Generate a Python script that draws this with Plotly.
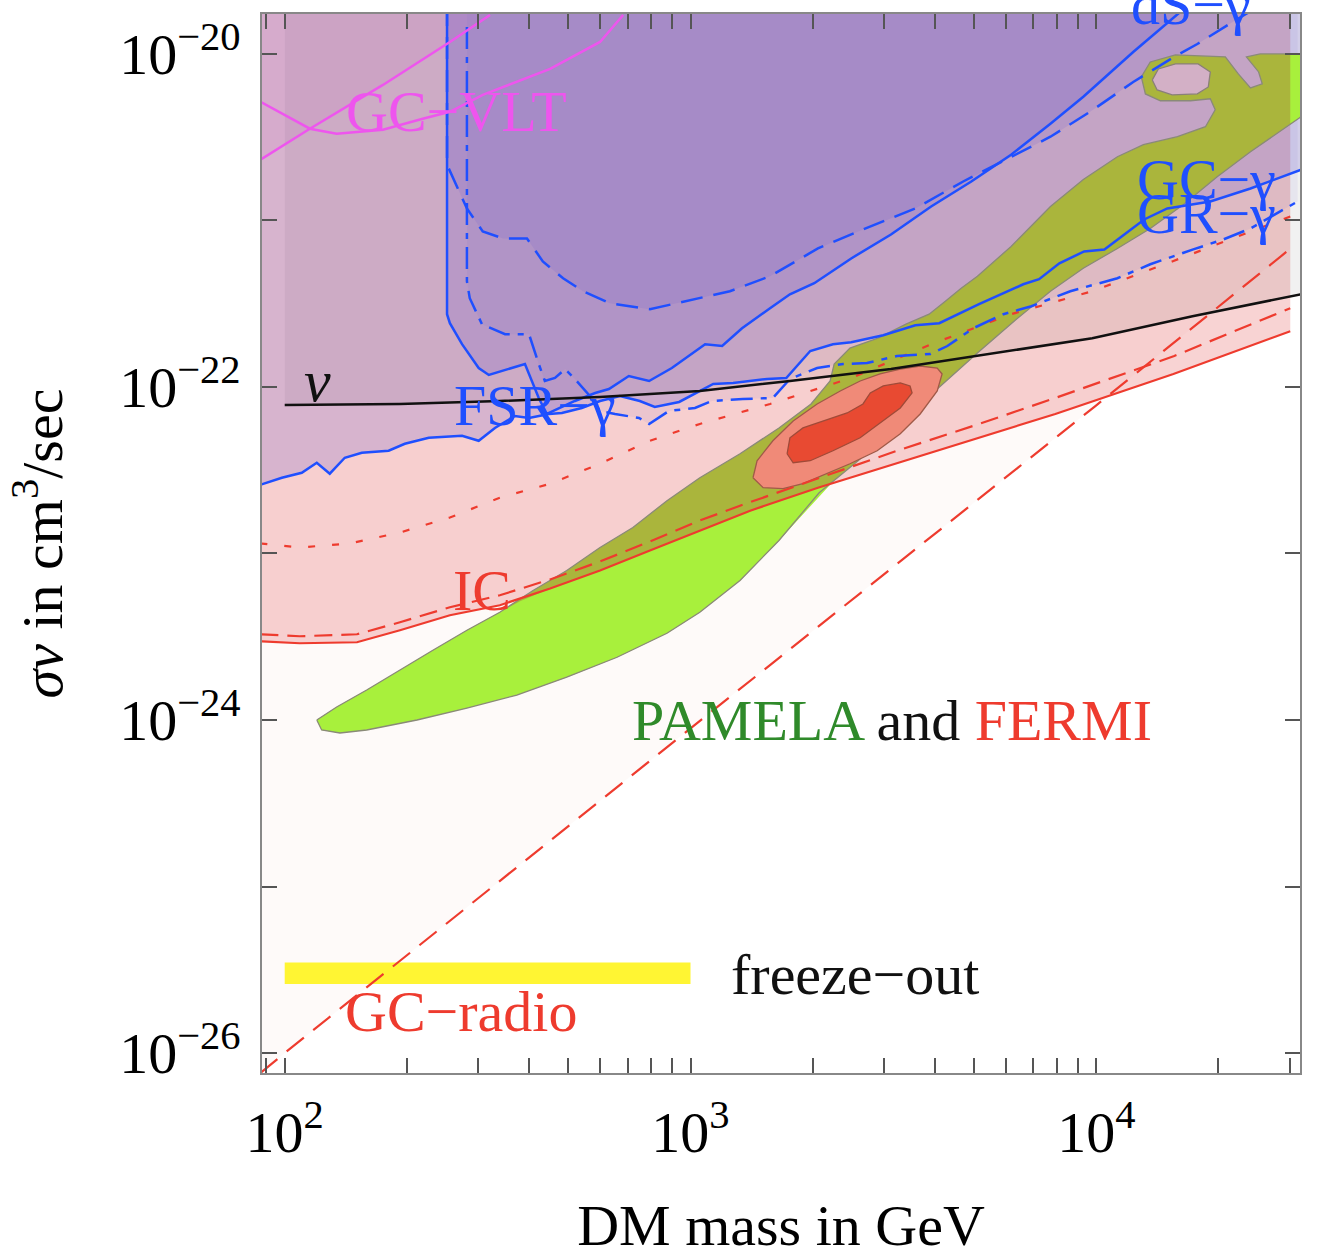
import numpy as np
import plotly.graph_objects as go

# Every curve is stored as log10(m_DM / GeV) and log10(<sigma v> / cm^3 s^-1)

# GC-radio bound (red, long dashes)
radio_lm = [1.94, 2.0, 3.0, 4.0, 4.478]
radio_lsv = [-26.12, -26.0, -24.05, -22.11, -21.17]

# IC bounds (red): solid, dashed, dotted
ic_lm = [1.94, 2.037, 2.178, 2.284, 2.407, 2.530, 2.654, 2.777, 2.900, 3.023,
         3.147, 3.314, 3.608, 3.899, 4.190, 4.478]
ic_lsv = [-23.527, -23.539, -23.533, -23.461, -23.371, -23.311, -23.210, -23.102,
          -22.982, -22.862, -22.743, -22.605, -22.383, -22.162, -21.922, -21.665]

ic2_lm = [1.94, 2.037, 2.178, 2.284, 2.407, 2.530, 2.654, 2.777, 2.900, 3.023,
          3.122, 3.314, 3.509, 3.704, 3.899, 4.192, 4.478]
ic2_lsv = [-23.485, -23.497, -23.485, -23.413, -23.323, -23.251, -23.156, -23.048,
           -22.928, -22.802, -22.713, -22.551, -22.383, -22.228, -22.066, -21.814, -21.527]

ic3_lm = [1.94, 2.037, 2.160, 2.284, 2.407, 2.530, 2.654, 2.777, 2.900, 3.023,
          3.196, 3.396, 3.593, 3.790, 3.990, 4.187, 4.478]
ic3_lsv = [-22.940, -22.964, -22.940, -22.874, -22.784, -22.665, -22.581, -22.461,
           -22.323, -22.222, -22.102, -21.946, -21.743, -21.563, -21.425, -21.246, -20.976]

# Neutrino bound (black)
nu_lm = [2.0, 2.284, 2.530, 2.777, 3.023, 3.245, 3.494, 3.741, 3.990, 4.237, 4.505]
nu_lsv = [-22.108, -22.102, -22.084, -22.060, -22.024, -21.964, -21.892, -21.802,
          -21.707, -21.575, -21.443]

# FSR-gamma / GC-gamma bound (blue, solid)
fsr_lm = [1.94, 1.993, 2.042, 2.079, 2.111, 2.148, 2.190, 2.256, 2.296, 2.355,
          2.437, 2.478, 2.518, 2.567, 2.602, 2.651, 2.683, 2.732, 2.777, 2.826,
          2.875, 2.912, 2.972, 3.023, 3.056, 3.105, 3.189, 3.236, 3.295, 3.351,
          3.396, 3.475, 3.554, 3.613, 3.711, 3.820, 3.859, 3.909, 3.970, 4.020,
          4.069, 4.118, 4.175, 4.281, 4.380, 4.505]
fsr_lsv = [-22.587, -22.545, -22.515, -22.455, -22.521, -22.425, -22.395, -22.383,
           -22.341, -22.305, -22.293, -22.323, -22.246, -22.174, -22.186, -22.162,
           -22.156, -22.126, -22.084, -22.054, -22.084, -22.120, -22.090, -22.024,
           -21.982, -21.976, -21.952, -21.946, -21.784, -21.743, -21.731, -21.689,
           -21.629, -21.617, -21.503, -21.383, -21.353, -21.257, -21.186, -21.174,
           -21.084, -20.994, -20.928, -20.886, -20.808, -20.695]

# Galactic-centre gamma bound with the vertical edge (blue, solid)
gc_lm = [2.400, 2.400, 2.407, 2.437, 2.478, 2.503, 2.592, 2.626, 2.646, 2.715,
         2.765, 2.799, 2.848, 2.898, 2.954, 3.036, 3.078, 3.127, 3.196, 3.245,
         3.305, 3.396, 3.494, 3.593, 3.692, 3.790, 3.887, 3.968, 4.091, 4.230]
gc_lsv = [-19.70, -21.563, -21.617, -21.743, -21.886, -21.928, -21.862, -22.066,
          -22.162, -22.084, -22.036, -22.012, -21.934, -21.964, -21.886, -21.743,
          -21.754, -21.647, -21.527, -21.443, -21.377, -21.228, -21.084, -20.916,
          -20.766, -20.605, -20.419, -20.257, -19.988, -19.70]

# Dashed gamma bound (blue, dashes)
dsh_lm = [2.400, 2.400, 2.449, 2.488, 2.538, 2.597, 2.636, 2.686, 2.735, 2.801,
          2.900, 3.023, 3.097, 3.196, 3.314, 3.425, 3.554, 3.672, 3.790, 3.887,
          3.985, 4.091, 4.200, 4.249, 4.348, 4.410]
dsh_lsv = [-19.70, -20.665, -20.928, -21.066, -21.108, -21.108, -21.246, -21.347,
           -21.425, -21.497, -21.533, -21.467, -21.425, -21.335, -21.168, -21.054,
           -20.928, -20.766, -20.617, -20.497, -20.347, -20.168, -20.006, -19.940,
           -19.790, -19.70]

# GR-gamma bound (blue, dash-dot)
gr_lm = [2.449, 2.449, 2.456, 2.486, 2.543, 2.602, 2.626, 2.641, 2.666, 2.691,
         2.715, 2.752, 2.777, 2.814, 2.873, 2.898, 2.947, 3.011, 3.053, 3.129,
         3.203, 3.245, 3.312, 3.376, 3.435, 3.509, 3.591, 3.633, 3.697, 3.771,
         3.840, 3.936, 4.052, 4.133, 4.239, 4.313, 4.380, 4.496]
gr_lsv = [-19.838, -21.365, -21.467, -21.623, -21.683, -21.683, -21.862, -21.964,
          -21.946, -21.892, -21.952, -22.054, -22.144, -22.162, -22.186, -22.222,
          -22.144, -22.126, -22.084, -22.072, -22.066, -21.952, -21.886, -21.862,
          -21.856, -21.814, -21.802, -21.754, -21.647, -21.563, -21.515, -21.425,
          -21.347, -21.263, -21.174, -21.114, -21.048, -20.886]

# GC-VLT bounds (magenta)
vlt1_lm = [1.94, 2.062, 2.242, 2.407, 2.506]
vlt1_lsv = [-20.635, -20.449, -20.186, -19.928, -19.766]
vlt2_lm = [1.94, 2.062, 2.128, 2.242, 2.340, 2.407, 2.488, 2.654, 2.777, 2.834]
vlt2_lsv = [-20.287, -20.449, -20.479, -20.455, -20.389, -20.347, -20.246, -20.090,
            -19.928, -19.766]

# PAMELA-favoured region (outer contour)
pamela_lm = [2.079, 2.091, 2.136, 2.202, 2.326, 2.449, 2.572, 2.695, 2.819, 2.942,
             3.023, 3.122, 3.218, 3.317, 3.413, 3.512, 3.608, 3.707, 3.803, 3.887,
             3.968, 4.052, 4.133, 4.215, 4.298, 4.380, 4.505,
             4.505, 4.404, 4.370, 4.400, 4.409, 4.380, 4.350, 4.318, 4.195, 4.133,
             4.111, 4.121, 4.158, 4.232, 4.281, 4.293, 4.269, 4.200, 4.116,
             4.052, 3.968, 3.887, 3.790, 3.707, 3.667, 3.628, 3.588, 3.531, 3.462,
             3.393, 3.354, 3.344, 3.297, 3.218, 3.122, 3.023, 2.942, 2.858, 2.777,
             2.695, 2.612, 2.530, 2.449, 2.365, 2.284, 2.202, 2.128]
pamela_lsv = [-24.000, -24.060, -24.078, -24.060, -24.000, -23.928, -23.850, -23.743,
              -23.623, -23.479, -23.353, -23.162, -22.922, -22.635, -22.443, -22.228,
              -22.012, -21.796, -21.593, -21.425, -21.287, -21.168, -21.048, -20.904,
              -20.737, -20.587, -20.377,
              -20.000, -20.000, -20.018, -20.108, -20.180, -20.204, -20.120, -20.018,
              -20.006, -20.048, -20.138, -20.240, -20.281, -20.281, -20.269, -20.335,
              -20.437, -20.497, -20.545,
              -20.617, -20.754, -20.916, -21.156, -21.335, -21.407, -21.485, -21.563,
              -21.623, -21.707, -21.766, -21.862, -21.964, -22.102, -22.246, -22.401,
              -22.545, -22.683, -22.844, -22.964, -23.102, -23.222, -23.353, -23.461,
              -23.581, -23.701, -23.820, -23.922]
# part of the PAMELA region left unconstrained (below the IC bound)
core_lm = [2.079, 2.128, 2.202, 2.284, 2.365, 2.449, 2.530, 2.580, 2.654, 2.777,
           2.900, 3.023, 3.147, 3.314, 3.344, 3.218, 3.122, 3.023, 2.942, 2.819,
           2.695, 2.572, 2.449, 2.326, 2.202, 2.136, 2.091]
core_lsv = [-24.000, -23.922, -23.820, -23.701, -23.581, -23.461, -23.353, -23.287,
            -23.210, -23.102, -22.982, -22.862, -22.743, -22.605, -22.587, -22.922,
            -23.162, -23.353, -23.479, -23.623, -23.743, -23.850, -23.928, -24.000,
            -24.060, -24.078, -24.060]
edge_lm = [4.478, 4.505, 4.505, 4.478]
edge_lsv = [-20.000, -20.000, -20.377, -20.419]
hole_lm = [4.138, 4.153, 4.195, 4.251, 4.281, 4.276, 4.249, 4.187, 4.150]
hole_lsv = [-20.156, -20.090, -20.060, -20.060, -20.108, -20.198, -20.240, -20.246, -20.216]

# FERMI-favoured regions (outer and inner contours)
fermi1_lm = [3.154, 3.164, 3.203, 3.253, 3.312, 3.369, 3.418, 3.467, 3.517, 3.566,
             3.608, 3.620, 3.608, 3.566, 3.517, 3.460, 3.393, 3.337, 3.277, 3.228, 3.179]
fermi1_lsv = [-22.545, -22.443, -22.323, -22.204, -22.102, -22.024, -21.964, -21.922,
              -21.892, -21.874, -21.886, -21.922, -22.024, -22.162, -22.281, -22.383,
              -22.461, -22.521, -22.581, -22.611, -22.605]
fermi2_lm = [3.238, 3.245, 3.277, 3.327, 3.386, 3.425, 3.443, 3.475, 3.517, 3.541,
             3.546, 3.517, 3.475, 3.418, 3.351, 3.295, 3.253]
fermi2_lsv = [-22.401, -22.305, -22.246, -22.204, -22.156, -22.102, -22.036, -21.994,
              -21.976, -21.994, -22.036, -22.126, -22.204, -22.305, -22.383, -22.443, -22.455]

# Thermal freeze-out cross section band
freeze_m = [100, 1000]
freeze_sv = [2.6e-26, 3.5e-26]

TOP = -19.5
BLUE = "#1f4fff"
RED = "#ee3b2e"
MAGENTA = "#ee55ee"
VIOLET = "105,85,205"


def pw(a):
    return 10.0 ** np.asarray(a, dtype=float)


def region_above(lm, lsv, color):
    x = [lm[0]] + list(lm) + [lm[-1]]
    y = [TOP] + list(lsv) + [TOP]
    return go.Scatter(x=pw(x), y=pw(y), mode="lines", line=dict(width=0),
                      fill="toself", fillcolor=color, hoverinfo="skip")


def patch(lm, lsv, color, outline=None, width=0):
    return go.Scatter(x=pw(list(lm) + [lm[0]]), y=pw(list(lsv) + [lsv[0]]),
                      mode="lines", fill="toself", fillcolor=color,
                      line=dict(color=outline or color, width=width), hoverinfo="skip")


def curve(lm, lsv, color, width=2.5, dash="solid"):
    return go.Scatter(x=pw(lm), y=pw(lsv), mode="lines",
                      line=dict(color=color, width=width, dash=dash), hoverinfo="skip")


fig = go.Figure()

# excluded regions, semi-transparent
fig.add_trace(region_above(radio_lm, radio_lsv, "rgba(235,185,175,0.07)"))
fig.add_trace(region_above(ic_lm, ic_lsv, "rgba(232,110,110,0.30)"))
fig.add_trace(region_above(nu_lm, nu_lsv, "rgba(0,0,0,0.055)"))
fig.add_trace(region_above(fsr_lm, fsr_lsv, f"rgba({VIOLET},0.22)"))
fig.add_trace(region_above(gr_lm, gr_lsv, f"rgba({VIOLET},0.08)"))
fig.add_trace(region_above(gc_lm, gc_lsv, f"rgba({VIOLET},0.20)"))
fig.add_trace(region_above(dsh_lm, dsh_lsv, f"rgba({VIOLET},0.15)"))
fig.add_trace(region_above(vlt1_lm, vlt1_lsv, "rgba(205,80,195,0.08)"))

# PAMELA and FERMI favoured regions
fig.add_trace(patch(pamela_lm, pamela_lsv, "#aab53c"))
fig.add_trace(patch(core_lm, core_lsv, "#a8f03c"))
fig.add_trace(patch(edge_lm, edge_lsv, "#a8f03c"))
fig.add_trace(patch(pamela_lm, pamela_lsv, "rgba(0,0,0,0)", "#8a8a78", 1.3))
fig.add_trace(patch(hole_lm, hole_lsv, "#d3b0c6", "#8a8078", 1.3))
fig.add_trace(patch(fermi1_lm, fermi1_lsv, "#f08a78", "#a05a48", 1.3))
fig.add_trace(patch(fermi2_lm, fermi2_lsv, "#e84a32", "#a04a38", 1.3))

# freeze-out band
fig.add_trace(go.Scatter(x=[freeze_m[0], freeze_m[1], freeze_m[1], freeze_m[0], freeze_m[0]],
                         y=[freeze_sv[0], freeze_sv[0], freeze_sv[1], freeze_sv[1], freeze_sv[0]],
                         mode="lines", fill="toself", fillcolor="#fff533",
                         line=dict(width=0), hoverinfo="skip"))

# bounds
fig.add_trace(curve(radio_lm, radio_lsv, RED, 2.2, "22px,12px"))
fig.add_trace(curve(ic_lm, ic_lsv, RED, 2.2))
fig.add_trace(curve(ic2_lm, ic2_lsv, RED, 2.2, "18px,9px"))
fig.add_trace(curve(ic3_lm, ic3_lsv, RED, 2.2, "7px,17px"))
fig.add_trace(curve(fsr_lm, fsr_lsv, BLUE, 2.5))
fig.add_trace(curve(gc_lm, gc_lsv, BLUE, 2.5))
fig.add_trace(curve(dsh_lm, dsh_lsv, BLUE, 2.5, "22px,11px"))
fig.add_trace(curve(gr_lm, gr_lsv, BLUE, 2.5, "22px,8px,6px,8px"))
fig.add_trace(curve(vlt1_lm, vlt1_lsv, MAGENTA, 2.5))
fig.add_trace(curve(vlt2_lm, vlt2_lsv, MAGENTA, 2.5))
fig.add_trace(curve(nu_lm, nu_lsv, "#111111", 2.5))

FONT = "Liberation Serif, Times New Roman, serif"
FS = 58


def label(text, lm, lsv, color, size=FS, **kw):
    fig.add_annotation(x=lm, y=lsv, xref="x", yref="y", text=text, showarrow=False,
                       font=dict(family=FONT, size=size, color=color), **kw)


label("GC−VLT", 2.424, -20.347, MAGENTA)
label("<i>ν</i>", 2.081, -21.964, "#111111", 60)
label("FSR−γ", 2.617, -22.114, BLUE)
label("GC−γ", 4.271, -20.754, BLUE)
label("GR−γ", 4.271, -20.958, BLUE)
label("IC", 2.486, -23.222, RED)
label('<span style="color:#2f8a2a">PAMELA</span> and '
      '<span style="color:#ee3b2e">FERMI</span>', 3.497, -24.0, "#111111")
label("freeze−out", 3.406, -25.527, "#111111")
label("GC−radio", 2.434, -25.749, RED)
# label of the dwarf-spheroidal bound, sitting on the upper frame edge
fig.add_annotation(x=4.234, y=1.0085, xref="x", yref="paper", text="dS−γ",
                   xanchor="center", yanchor="middle", showarrow=False,
                   font=dict(family=FONT, size=FS, color=BLUE))

xt = [90, 100, 200, 300, 400, 500, 600, 700, 800, 900, 1000, 2000, 3000, 4000,
      5000, 6000, 7000, 8000, 9000, 10000, 20000, 30000]
xl = {100: "10<sup>2</sup>", 1000: "10<sup>3</sup>", 10000: "10<sup>4</sup>"}
yt = [1e-26, 1e-25, 1e-24, 1e-23, 1e-22, 1e-21, 1e-20]
yl = ["10<sup>−26</sup>", "", "10<sup>−24</sup>", "", "10<sup>−22</sup>", "", "10<sup>−20</sup>"]

axis_common = dict(type="log", showgrid=False, zeroline=False, ticks="inside", ticklen=15,
                   tickwidth=1.5, tickcolor="#555555", showline=True, linecolor="#888888",
                   linewidth=1.5, mirror="allticks", tickfont=dict(family=FONT, size=FS),
                   tickmode="array")

fig.update_layout(
    width=1319, height=1259,
    margin=dict(l=262, r=19, t=12, b=186),
    paper_bgcolor="white", plot_bgcolor="white",
    showlegend=False, hovermode=False,
    font=dict(family=FONT, size=FS, color="black"),
    xaxis=dict(axis_common, range=[1.944, 4.502], tickvals=xt,
               ticktext=[xl.get(v, "") for v in xt], ticklabelstandoff=8,
               title=dict(text="DM mass in GeV", standoff=40, font=dict(family=FONT, size=FS))),
    yaxis=dict(axis_common, range=[-26.12, -19.76], tickvals=yt, ticktext=yl,
               ticklabelstandoff=8,
               title=dict(text="<i>σv</i> in cm<sup>3</sup>/sec", standoff=38,
                          font=dict(family=FONT, size=FS))),
)

fig.write_html("out.html")
